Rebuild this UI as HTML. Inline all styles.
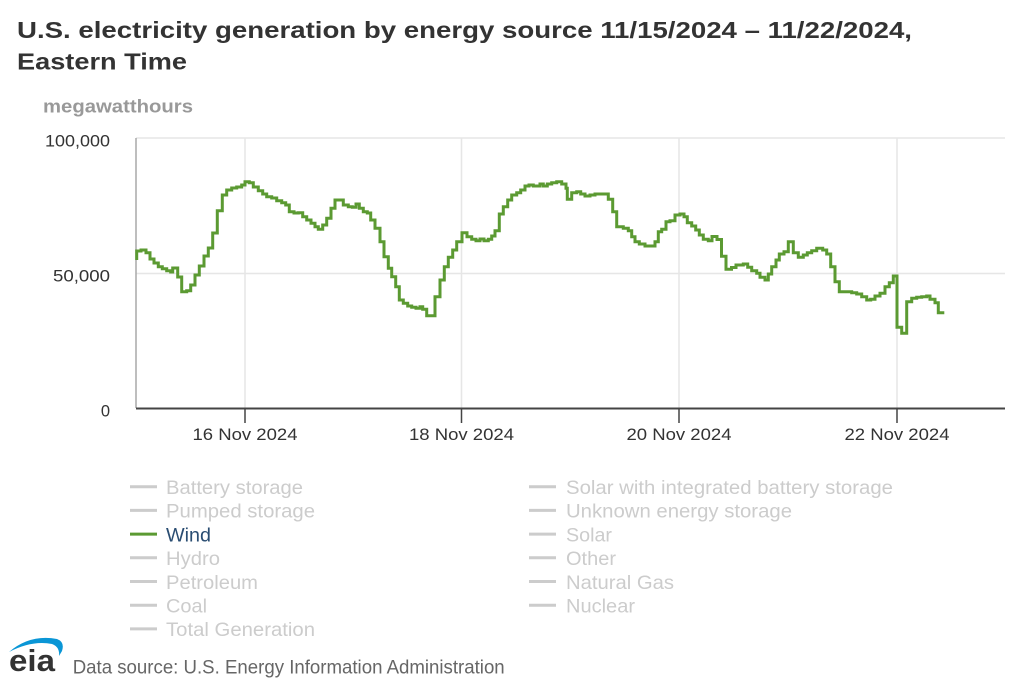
<!DOCTYPE html>
<html><head><meta charset="utf-8"><style>
html,body{margin:0;padding:0;background:#fff;}
svg{display:block;}
text{font-family:"Liberation Sans",Arial,sans-serif;}
</style></head><body>
<svg width="1024" height="683" viewBox="0 0 1024 683" xmlns="http://www.w3.org/2000/svg">
<rect width="1024" height="683" fill="#fff"/>
<text x="17" y="38" font-size="23" font-weight="bold" fill="#333" textLength="895" lengthAdjust="spacingAndGlyphs">U.S. electricity generation by energy source 11/15/2024 – 11/22/2024,</text>
<text x="17" y="69.5" font-size="23" font-weight="bold" fill="#333" textLength="170" lengthAdjust="spacingAndGlyphs">Eastern Time</text>
<text x="43" y="112.5" font-size="18.5" font-weight="bold" fill="#999" textLength="150" lengthAdjust="spacingAndGlyphs">megawatthours</text>

<!-- grid -->
<g stroke="#e6e6e6" stroke-width="1.5" fill="none">
<line x1="136" y1="138" x2="1005" y2="138"/>
<line x1="136" y1="273.5" x2="1005" y2="273.5"/>
<line x1="245" y1="138" x2="245" y2="408"/>
<line x1="461.5" y1="138" x2="461.5" y2="408"/>
<line x1="679" y1="138" x2="679" y2="408"/>
<line x1="897" y1="138" x2="897" y2="408"/>
</g>
<line x1="136" y1="138" x2="136" y2="408" stroke="#a8a8a8" stroke-width="1.5"/>
<line x1="136" y1="408.5" x2="1005" y2="408.5" stroke="#444" stroke-width="2"/>
<g stroke="#444" stroke-width="1.5">
<line x1="245" y1="408" x2="245" y2="423"/>
<line x1="461.5" y1="408" x2="461.5" y2="423"/>
<line x1="679" y1="408" x2="679" y2="423"/>
<line x1="897" y1="408" x2="897" y2="423"/>
</g>
<g font-size="16.5" fill="#333" text-anchor="end">
<text x="110" y="146.7" textLength="65" lengthAdjust="spacingAndGlyphs">100,000</text>
<text x="110" y="281.7" textLength="57" lengthAdjust="spacingAndGlyphs">50,000</text>
<text x="110" y="416.7">0</text>
</g>
<g font-size="17" fill="#333">
<text x="192.5" y="440" textLength="105" lengthAdjust="spacingAndGlyphs">16 Nov 2024</text>
<text x="409" y="440" textLength="105" lengthAdjust="spacingAndGlyphs">18 Nov 2024</text>
<text x="626.5" y="440" textLength="105" lengthAdjust="spacingAndGlyphs">20 Nov 2024</text>
<text x="844.5" y="440" textLength="105" lengthAdjust="spacingAndGlyphs">22 Nov 2024</text>
</g>

<!-- series -->
<path fill="none" stroke="#5b9a32" stroke-width="3" stroke-linejoin="miter" d="M136.7,260 V251 H141 V250 H146 V252.7 H150 V259 H154 V263 H158.3 V266.7 H162.3 V268.7 H166.7 V270.7 H170.7 V272 H172.7 V268 H177.7 V277 H181.7 V291.7 H186.7 V290.7 H190.7 V285 H195 V275 H199.3 V266 H204 V256 H208.3 V248 H212.7 V233 H217.3 V210.7 H222.3 V195 H226.7 V190 H231.7 V188 H236.7 V187 H241.7 V185 H245 V181.7 H249.3 V182.7 H253.3 V187 H258.3 V190.7 H262.7 V194 H266.7 V196.7 H271.7 V198 H276.7 V200.7 H281.7 V202.7 H285.7 V205 H289.3 V211.7 H294 V213 H298.3 V212.7 H302.7 V216.7 H306.7 V220 H311 V223.3 H315 V226.7 H318.3 V229.3 H322.7 V225 H326.7 V218.3 H331 V208.3 H335 V200 H343.3 V205 H348.3 V206.7 H352.3 V207.3 H356 V204 H359.3 V208.3 H363.3 V211.7 H367.3 V213 H370.7 V220 H375 V228.3 H380 V241.7 H384 V256.7 H388.3 V268.3 H391.7 V276.7 H395.7 V286.7 H399.3 V300 H403.3 V303.3 H407.7 V306 H411.7 V307.3 H416 V308.3 H420 V306.7 H422.7 V309.3 H426.7 V315.7 H435 V296.7 H440 V280 H444.3 V266.7 H448.3 V257.3 H452.7 V250 H456.7 V241.7 H462 V232.7 H467 V236.7 H471.7 V239.3 H476 V240.7 H480 V239 H484 V240.7 H488.3 V239.3 H491.7 V236 H495 V230.7 H499.3 V214 H503.3 V206.7 H507.7 V200 H511.7 V195 H516.7 V192.7 H520.7 V190 H525 V186 H529 V185 H533.3 V186 H540 V184 H543.3 V186 H547.3 V184 H551.7 V182.7 H556.7 V181.7 H561.7 V184 H566 V188.3 H567.3 V199.3 H571.7 V192.7 H576.7 V191.7 H580.7 V194 H585 V196 H590 V195 H595 V194 H608.3 V199.3 H612.7 V211.7 H616.7 V226.7 H623.3 V228.3 H628.3 V230.7 H631.7 V236.7 H635 V241.7 H639.3 V244 H645 V246 H655 V241.7 H658.3 V231.7 H661.7 V229.3 H666 V221.7 H670 V220.7 H675 V215 H680 V214 H684 V216.7 H687.3 V222.7 H691.7 V226 H695.7 V230 H699.3 V235 H703.3 V239.3 H708.3 V240.7 H712 V236.5 H717 V239.5 H721.5 V256.3 H726 V269.3 H731.5 V267.5 H736 V265 H743.3 V264 H747.7 V267.3 H751.7 V270.7 H756.7 V273.3 H760 V277.3 H765 V280 H768.3 V274 H771.7 V266.7 H776 V260 H779.3 V254 H784 V251.7 H788.3 V241.7 H793.3 V252.7 H798.3 V257.3 H803.3 V255 H807.3 V252.7 H811.7 V250.7 H816.7 V248.3 H822.7 V250 H826.7 V254 H830.7 V266.7 H835 V281.7 H839.3 V291.7 H851.7 V292.7 H856.7 V294 H861.7 V296.7 H866.7 V300 H870.7 V299.3 H875 V296 H880 V293.3 H885 V286.7 H889.3 V282.7 H893.3 V276 H897 V327.3 H901.7 V333.3 H906.7 V301.7 H911.7 V298.3 H916.7 V297.3 H921.7 V296.7 H926.7 V296 H930 V299.3 H935 V302.7 H938.3 V312.7 H944.3"/>

<!-- legend -->
<g stroke="#cccccc" stroke-width="3">
<line x1="130" y1="486.7" x2="157" y2="486.7"/>
<line x1="130" y1="510.4" x2="157" y2="510.4"/>
<line x1="130" y1="557.8" x2="157" y2="557.8" />
<line x1="130" y1="581.5" x2="157" y2="581.5"/>
<line x1="130" y1="605.2" x2="157" y2="605.2"/>
<line x1="130" y1="628.9" x2="157" y2="628.9"/>
<line x1="529" y1="486.7" x2="556" y2="486.7"/>
<line x1="529" y1="510.4" x2="556" y2="510.4"/>
<line x1="529" y1="534.1" x2="556" y2="534.1"/>
<line x1="529" y1="557.8" x2="556" y2="557.8"/>
<line x1="529" y1="581.5" x2="556" y2="581.5"/>
<line x1="529" y1="605.2" x2="556" y2="605.2"/>
</g>
<line x1="130" y1="534.1" x2="157" y2="534.1" stroke="#5b9a32" stroke-width="3"/>
<g font-size="19.5" fill="#cccccc" lengthAdjust="spacingAndGlyphs">
<text x="166" y="494" textLength="137" lengthAdjust="spacingAndGlyphs">Battery storage</text>
<text x="166" y="517.7" textLength="149" lengthAdjust="spacingAndGlyphs">Pumped storage</text>
<text x="166" y="541.4" textLength="45" lengthAdjust="spacingAndGlyphs" fill="#2a4d72">Wind</text>
<text x="166" y="565.1" textLength="54" lengthAdjust="spacingAndGlyphs">Hydro</text>
<text x="166" y="588.8" textLength="92" lengthAdjust="spacingAndGlyphs">Petroleum</text>
<text x="166" y="612.5" textLength="41" lengthAdjust="spacingAndGlyphs">Coal</text>
<text x="166" y="636.2" textLength="149" lengthAdjust="spacingAndGlyphs">Total Generation</text>
<text x="566" y="494" textLength="327" lengthAdjust="spacingAndGlyphs">Solar with integrated battery storage</text>
<text x="566" y="517.7" textLength="226" lengthAdjust="spacingAndGlyphs">Unknown energy storage</text>
<text x="566" y="541.4" textLength="46" lengthAdjust="spacingAndGlyphs">Solar</text>
<text x="566" y="565.1" textLength="50" lengthAdjust="spacingAndGlyphs">Other</text>
<text x="566" y="588.8" textLength="108" lengthAdjust="spacingAndGlyphs">Natural Gas</text>
<text x="566" y="612.5" textLength="69" lengthAdjust="spacingAndGlyphs">Nuclear</text>
</g>

<!-- eia logo -->
<path d="M9,652 Q30,634 57,639 Q65,642 62,651 L59,656 Q60,647 52,644 Q32,640 9,652 Z" fill="#0a96d6"/>
<text x="9" y="671" font-size="31" font-weight="bold" fill="#333" textLength="46" lengthAdjust="spacingAndGlyphs">eia</text>
<text x="72.7" y="673.5" font-size="19.5" fill="#666" textLength="432" lengthAdjust="spacingAndGlyphs">Data source: U.S. Energy Information Administration</text>
</svg>
</body></html>
